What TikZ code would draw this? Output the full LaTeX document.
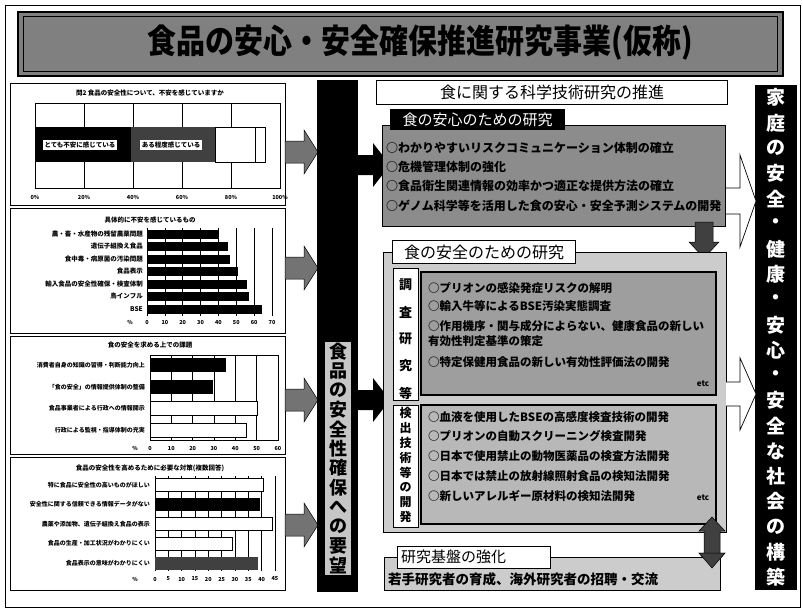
\documentclass[tikz,border=0pt]{standalone}
\usepackage{fontspec}
\setmainfont{Noto Sans CJK JP}
\definecolor{bannergray}{gray}{0.5}
\definecolor{boxAgray}{gray}{0.55}
\definecolor{boxBgray}{gray}{0.8}
\definecolor{innerAgray}{gray}{0.62}
\definecolor{innerBgray}{gray}{0.72}
\definecolor{arrowgray}{gray}{0.45}
\definecolor{darkgraytwo}{gray}{0.25}
\begin{document}
\begin{tikzpicture}[x=1pt,y=-1pt,
  chartbox/.style={draw=black,line width=0.8,fill=white},
  ctitle/.style={font=\fontsize{6.5}{7}\selectfont\bfseries,inner sep=0},
  clabel/.style={font=\fontsize{6}{7}\selectfont\bfseries,anchor=east,inner sep=0},
  clabelb/.style={font=\fontsize{6.5}{7}\selectfont\bfseries,anchor=east,inner sep=0},
  axlab/.style={font=\fontsize{5.5}{6}\selectfont\bfseries,inner sep=0},
  gridline/.style={draw=black,line width=0.5},
  wbar/.style={draw=black,line width=0.6,fill=white},
  grayarrow/.style={draw=black,line width=0.5,fill=arrowgray},
  itemA/.style={font=\fontsize{12}{13}\selectfont\bfseries,anchor=west,inner sep=0},
  itemB/.style={font=\fontsize{11.5}{12}\selectfont\bfseries,anchor=west,inner sep=0},
  vchar/.style={font=\fontsize{13}{13}\selectfont\bfseries,inner sep=0},
  vcharsmall/.style={font=\fontsize{12}{12}\selectfont\bfseries,inner sep=0},
  tabbox/.style={draw=black,line width=1,fill=white,inner sep=0},
]
\useasboundingbox (0,0) rectangle (803,611);
\fill[white] (0,0) rectangle (803,611);
\draw[line width=0.8] (5,5) rectangle (800,607);

% ---------- title banner ----------
\node[draw=black,line width=1.3,fill=bannergray,minimum width=765,minimum height=64,inner sep=0] (banner) at (400.5,44) {};
\draw[line width=0.6] ([shift={(6,5)}]banner.north west) rectangle ([shift={(-6,-5)}]banner.south east);
\node[font=\fontsize{29}{30}\selectfont\bfseries,inner sep=0] (title) at (420,43) {\scalebox{1}[1.15]{食品の安心・安全確保推進研究事業(仮称)}};

% ---------- chart 1 ----------
\draw[chartbox] (10,83) rectangle (285,205);
\node[ctitle] (c1t) at (150,93) {問2\ 食品の安全性について、不安を感じていますか};
\draw[gridline] (35,103) rectangle (280,188);
\foreach \i in {1,...,4} \draw[gridline] (35+\i*49,103) -- (35+\i*49,188);
\fill[black] (35,127) rectangle (131,162);
\fill[darkgraytwo] (131,127) rectangle (215,162);
\draw[wbar] (215,127) rectangle (255,162);
\draw[wbar] (255,127) rectangle (265,162);
\node[fill=white,font=\fontsize{6.5}{7}\selectfont\bfseries,inner sep=2] (c1l1) at (80,145) {とても不安に感じている};
\node[fill=white,font=\fontsize{6.5}{7}\selectfont\bfseries,inner sep=2] (c1l2) at (171,145) {ある程度感じている};
\foreach \i/\t in {0/0,1/20,2/40,3/60,4/80,5/100} \node[axlab] (c1a\i) at (35+\i*49,197) {\t\%};

% ---------- chart 2 ----------
\draw[chartbox] (10,208) rectangle (285,333);
\node[ctitle] (c2t) at (150,220) {具体的に不安を感じているもの};
\foreach \i in {0,...,7} \draw[gridline] (147+\i*17.86,228) -- (147+\i*17.86,316);
\foreach \i/\e/\t in {0/218/農・畜・水産物の残留農薬問題,1/228/遺伝子組換え食品,2/230/食中毒・病原菌の汚染問題,3/238/食品表示,4/247/輸入食品の安全性確保・検査体制,5/249/鳥インフル,6/262/BSE}{
  \fill[black] (147,229.5+\i*12.5) rectangle (\e,238.5+\i*12.5);
  \node[clabelb] (c2l\i) at (143,234+\i*12.5) {\t};
}
\node[axlab] (c2p) at (130,322) {\%};
\foreach \i/\t in {0/0,1/10,2/20,3/30,4/40,5/50,6/60,7/70} \node[axlab] (c2a\i) at (147+\i*17.86,322) {\t};

% ---------- chart 3 ----------
\draw[chartbox] (10,336) rectangle (285,454);
\node[ctitle] (c3t) at (150,345) {食の安全を求める上での課題};
\draw[gridline] (150,355) rectangle (278,440);
\foreach \i in {1,...,5} \draw[gridline] (150+\i*21.33,355) -- (150+\i*21.33,440);
\fill[black] (150,358) rectangle (226,372);
\fill[black] (150,380) rectangle (213,394);
\draw[wbar] (150,401) rectangle (257,415);
\draw[wbar] (150,423) rectangle (246,437);
\foreach \i/\y/\t in {1/365/消費者自身の知識の習得・判断能力向上,2/387/「食の安全」の情報提供体制の整備,3/408/食品事業者による行政への情報開示,4/430/行政による監視・指導体制の充実}
  \node[clabel] (c3l\i) at (145,\y) {\t};
\node[axlab] (c3p) at (135,448) {\%};
\foreach \i/\t in {0/0,1/10,2/20,3/30,4/40,5/50,6/60} \node[axlab] (c3a\i) at (150+\i*21.33,448) {\t};

% ---------- chart 4 ----------
\draw[chartbox] (10,457) rectangle (285,590);
\node[ctitle] (c4t) at (150,468) {食品の安全性を高めるために必要な対策(複数回答)};
\foreach \i in {0,...,9} \draw[gridline] (155+\i*13.33,476) -- (155+\i*13.33,571);
\draw[wbar] (155,478.5) rectangle (263,491.5);
\fill[black] (155,498) rectangle (260,511);
\draw[wbar] (155,517.5) rectangle (272,530.5);
\draw[wbar] (155,537) rectangle (232,550);
\fill[darkgraytwo] (155,556.5) rectangle (258,569.5);
\foreach \i/\y/\t in {1/485/特に食品に安全性の高いものがほしい,2/504.5/安全性に関する信頼できる情報データがない,3/524/農薬や添加物、遺伝子組換え食品の表示,4/543.5/食品の生産・加工状況がわかりにくい,5/563/食品表示の意味がわかりにくい}
  \node[clabel] (c4l\i) at (150,\y) {\t};
\node[axlab] (c4p) at (135,579) {\%};
\foreach \i/\t in {0/0,1/5,2/10,3/15,4/20,5/25,6/30,7/35,8/40,9/45} \node[axlab] (c4a\i) at (155+\i*13.33,579) {\t};

% ---------- gray arrows from charts ----------
\foreach \c in {152,268,400,525}
  \draw[grayarrow] (285,\c-11) -- (304,\c-11) -- (304,\c-22) -- (318,\c) -- (304,\c+22) -- (304,\c+11) -- (285,\c+11) -- cycle;

% ---------- central bar ----------
\fill[black] (317,80) rectangle (358,592);
\fill[gray!45!white] (325,342) rectangle (351,575);
\foreach \ch [count=\i] in {食,品,の,安,全,性,確,保,へ,の,要,望}
  \node[font=\fontsize{18}{18}\selectfont\bfseries,inner sep=0] (cv\i) at (338,351.7+\i*19.4-19.4) {\ch};
\fill[black] (358,155) -- (373,155) -- (373,143) -- (390,165) -- (373,187) -- (373,175) -- (358,175) -- cycle;
\fill[black] (358,390) -- (373,390) -- (373,378) -- (390,400) -- (373,422) -- (373,410) -- (358,410) -- cycle;

% ---------- right column ----------
\fill[black] (755,85) rectangle (797,590);
\foreach \ch [count=\i] in {家,庭,の,安,全,・,健,康,・,安,心,・,安,全,な,社,会,の,構,築}
  \node[font=\fontsize{19}{19}\selectfont\bfseries,text=white,inner sep=0] (rv\i) at (776,97.6+\i*25.25-25.25) {\ch};

% ---------- header ----------
\node[draw=black,line width=0.8,fill=white,minimum width=351,minimum height=24,inner sep=0,font=\fontsize{16}{16}\selectfont] (hdr) at (552,92) {食に関する科学技術研究の推進};

% ---------- box 1 ----------
\draw[line width=0.8,fill=boxAgray] (382,125) rectangle (725,226);
\node[fill=black,text=white,anchor=north west,minimum width=175,minimum height=21,inner sep=0,font=\fontsize{15}{15}\selectfont] (tab1) at (390,109) {食の安心のための研究};
\node[itemA] (a1) at (386,148) {○わかりやすいリスクコミュニケーション体制の確立};
\node[itemA] (a2) at (386,167) {○危機管理体制の強化};
\node[itemA] (a3) at (386,186) {○食品衛生関連情報の効率かつ適正な提供方法の確立};
\node[itemA] (a4) at (386,206) {○ゲノム科学等を活用した食の安心・安全予測システムの開発};

% down arrow
\draw[fill=darkgraytwo,line width=0.5] (695,222) -- (713,222) -- (713,242) -- (719,242) -- (704,258) -- (689,242) -- (695,242) -- cycle;

% ---------- box 2 ----------
\draw[line width=0.8,fill=boxBgray] (383,252) rectangle (726,532);
\node[tabbox,anchor=north west,minimum width=183,minimum height=23,font=\fontsize{16}{16}\selectfont] (tab2) at (392,240) {食の安全のための研究};
\draw[line width=0.8,fill=white] (393,268) rectangle (418,400);
\foreach \ch [count=\i] in {調,査,研,究,等}
  \node[vchar] (sa\i) at (405.5,285+\i*27-27) {\ch};
\draw[line width=0.8,fill=white] (393,405) rectangle (418,527);
\foreach \ch [count=\i] in {検,出,技,術,等,の,開,発}
  \node[vcharsmall] (sb\i) at (405.5,413+\i*14.9-14.9) {\ch};
\draw[line width=1.4,fill=innerAgray] (421,272) rectangle (716,395);
\node[itemB] (b1) at (428,288) {○プリオンの感染発症リスクの解明};
\node[itemB] (b2) at (428,306) {○輸入牛等によるBSE汚染実態調査};
\node[itemB] (b3) at (428,326) {○作用機序・関与成分によらない、健康食品の新しい};
\node[itemB] (b3b) at (428,341) {有効性判定基準の策定};
\node[itemB] (b4) at (428,362) {○特定保健用食品の新しい有効性評価法の開発};
\node[font=\fontsize{8}{8}\selectfont\bfseries,inner sep=0] (etc1) at (703,384) {etc};
\draw[line width=1.4,fill=innerBgray] (421,405) rectangle (716,524);
\node[itemB] (d1) at (428,417) {○血液を使用したBSEの高感度検査技術の開発};
\node[itemB] (d2) at (428,436) {○プリオンの自動スクリーニング検査開発};
\node[itemB] (d3) at (428,456) {○日本で使用禁止の動物医薬品の検査方法開発};
\node[itemB] (d4) at (428,476) {○日本では禁止の放射線照射食品の検知法開発};
\node[itemB] (d5) at (428,496) {○新しいアレルギー原材料の検知法開発};
\node[font=\fontsize{8}{8}\selectfont\bfseries,inner sep=0] (etc2) at (703,498) {etc};

% ---------- white arrows to right column ----------
\draw[fill=white,line width=0.7] (726,188) -- (740,188) -- (740,155) -- (756,201) -- (740,247) -- (740,214) -- (726,214);
\draw[fill=white,line width=0.7] (726,382) -- (740,382) -- (740,358) -- (756,394) -- (740,430) -- (740,406) -- (726,406);

% ---------- double arrow ----------
\draw[fill=darkgraytwo,line width=0.5] (712,517) -- (725,531) -- (720,531) -- (720,553) -- (725,553) -- (712,568) -- (699,553) -- (704,553) -- (704,531) -- (699,531) -- cycle;

% ---------- box 3 ----------
\draw[line width=0.8,fill=boxBgray] (384,557) rectangle (720,590);
\draw[fill=darkgraytwo,line width=0.5] (704,553) -- (720,553) -- (725,553) -- (712,568) -- (699,553) -- cycle;
\draw[line width=1,fill=white] (397,546) rectangle (550,568);
\node[font=\fontsize{15}{15}\selectfont,anchor=west,inner sep=0] (tab3) at (401,557) {研究基盤の強化};
\node[font=\fontsize{13.5}{14}\selectfont\bfseries,anchor=west,inner sep=0] (e1) at (388,579) {若手研究者の育成、海外研究者の招聘・交流};
\end{tikzpicture}
\end{document}
